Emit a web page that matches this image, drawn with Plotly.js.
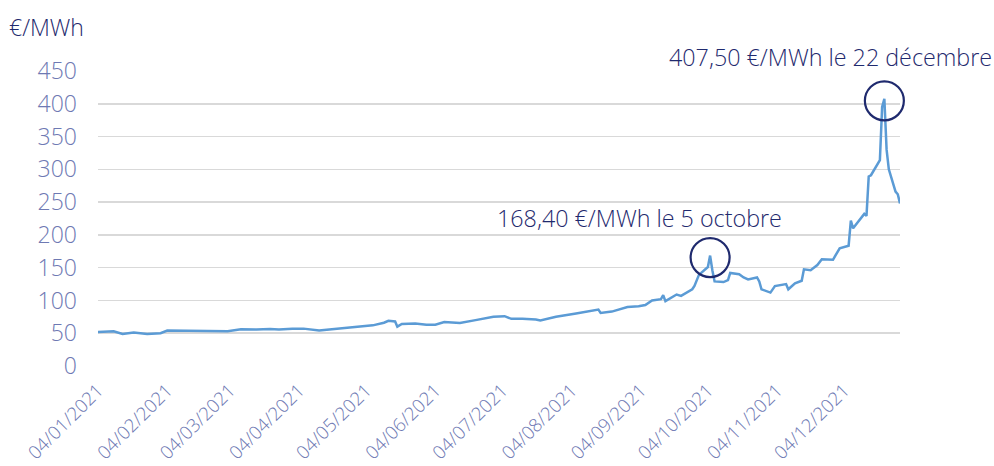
<!DOCTYPE html>
<html>
<head>
<meta charset="utf-8">
<script src="https://cdn.plot.ly/plotly-3.0.1.min.js"></script>
<style>html,body{margin:0;padding:0;background:#fff;}#chart{width:994px;height:466px;}</style>
</head>
<body>
<div id="chart"></div>
<script>
const dates = [
 '2021-01-04','2021-01-08','2021-01-11','2021-01-15','2021-01-20','2021-01-26','2021-02-01','2021-02-04','2021-02-10','2021-02-16','2021-02-24',
 '2021-03-03','2021-03-09','2021-03-16','2021-03-22','2021-03-26','2021-04-01','2021-04-06','2021-04-13','2021-04-19','2021-04-26',
 '2021-05-03','2021-05-07','2021-05-12','2021-05-14','2021-05-17','2021-05-18','2021-05-20','2021-05-26','2021-05-31',
 '2021-06-04','2021-06-08','2021-06-15','2021-06-22','2021-06-30','2021-07-05','2021-07-08','2021-07-13','2021-07-19','2021-07-21','2021-07-28',
 '2021-08-06','2021-08-12','2021-08-16','2021-08-17','2021-08-22','2021-08-29','2021-09-03','2021-09-06','2021-09-09','2021-09-13','2021-09-14','2021-09-15',
 '2021-09-20','2021-09-22','2021-09-27','2021-09-28','2021-09-30','2021-10-04','2021-10-05','2021-10-06','2021-10-07','2021-10-11','2021-10-13','2021-10-14',
 '2021-10-18','2021-10-20','2021-10-22','2021-10-26','2021-10-27','2021-10-28','2021-11-01','2021-11-03','2021-11-08','2021-11-09','2021-11-12','2021-11-15',
 '2021-11-16','2021-11-19','2021-11-22','2021-11-24','2021-11-29','2021-11-30','2021-12-02','2021-12-06','2021-12-07','2021-12-08','2021-12-13','2021-12-14',
 '2021-12-15','2021-12-16','2021-12-20','2021-12-21','2021-12-22','2021-12-23','2021-12-24','2021-12-27','2021-12-28','2021-12-29'
];
const prices = [
 52,52,53,49,51,49,50,54,54,53,54,
 53,56,55.5,56.5,55.5,57,57,54,56,58,
 61,62,66,69,68,60,64,65,63,
 63,67,65.5,70,75,76,72,72,71,69.5,75,
 80,84,86,81,83,90,91,93,100,102,108,99,
 109,107,117,122,139,151,168.4,146,129,128,131,142,
 140,135,132,135,129,117,112,122,125,117,126,130,
 147.5,146,154,162.7,162,168,179.5,183.5,221.7,210,232,229,
 289,291,314,395,407.5,330,300,266,262,248
];
const tickDates = ['2021-01-04','2021-02-04','2021-03-04','2021-04-04','2021-05-04','2021-06-04','2021-07-04','2021-08-04','2021-09-04','2021-10-04','2021-11-04','2021-12-04'];
const tickLabels = ['04/01/2021','04/02/2021','04/03/2021','04/04/2021','04/05/2021','04/06/2021','04/07/2021','04/08/2021','04/09/2021','04/10/2021','04/11/2021','04/12/2021'];
const yTicks = [0,50,100,150,200,250,300,350,400,450];
const peakDates = ['2021-10-05','2021-12-22'];
const peakValues = [168.4, 407.5];
const peakTexts = ['168,40 €/MWh le 5 octobre','407,50 €/MWh le 22 décembre'];
const unitLabel = '€/MWh';

const navy = '#1f2a6e';
const tickColor = '#6e79b3';
const FONT = 'Open Sans, Noto Sans, sans-serif';
const xStart = '2021-01-04', xEnd = '2021-12-29';
const yMax = 450;

const trace = {
  x: dates, y: prices, type: 'scatter', mode: 'lines',
  line: {color: '#5b9bd5', width: 2.5},
  hoverinfo: 'skip'
};

const t0 = Date.parse(xStart), t1 = Date.parse(xEnd);
const shapes = peakDates.map((d, i) => ({
  type: 'circle', xref: 'paper', yref: 'paper',
  xsizemode: 'pixel', ysizemode: 'pixel',
  xanchor: (Date.parse(d) - t0) / (t1 - t0), yanchor: peakValues[i] / yMax,
  x0: -19.5, x1: 19.5, y0: -21.5, y1: 17.5,
  line: {color: navy, width: 2.2}
}));

const annotations = [
  {text: peakTexts[0], xref: 'paper', yref: 'paper', x: 0.675, y: 0.502, xanchor: 'center', yanchor: 'middle', showarrow: false, font: {family: FONT, size: 23.3, weight: 300, color: navy}},
  {text: peakTexts[1], xref: 'paper', yref: 'paper', x: 1.117, y: 1.047, xanchor: 'right', yanchor: 'middle', showarrow: false, font: {family: FONT, size: 23.3, weight: 300, color: navy}},
  {text: unitLabel, xref: 'paper', yref: 'paper', x: -0.113, y: 1.149, xanchor: 'left', yanchor: 'middle', showarrow: false, font: {family: FONT, size: 23, weight: 300, color: navy}}
];

const layout = {
  width: 994, height: 466,
  margin: {l: 98, r: 94, t: 71, b: 100},
  paper_bgcolor: '#fff', plot_bgcolor: '#fff',
  showlegend: false,
  font: {family: FONT},
  xaxis: {
    type: 'date', range: [xStart, xEnd],
    tickmode: 'array', tickvals: tickDates, ticktext: tickLabels,
    tickangle: -45, showgrid: false, zeroline: false, showline: false, ticks: '',
    tickfont: {family: FONT, size: 18.5, weight: 300, color: tickColor},
    ticklabelstandoff: 9
  },
  yaxis: {
    range: [0, yMax], tickmode: 'array', tickvals: yTicks,
    showgrid: true, gridcolor: '#d9d9d9', gridwidth: 1.6,
    zeroline: false, showline: false, ticks: '',
    tickfont: {family: FONT, size: 23, weight: 300, color: tickColor},
    ticklabelstandoff: 20
  },
  shapes: shapes,
  annotations: annotations
};

Plotly.newPlot('chart', [trace], layout, {displayModeBar: false, staticPlot: true});
</script>
</body>
</html>
